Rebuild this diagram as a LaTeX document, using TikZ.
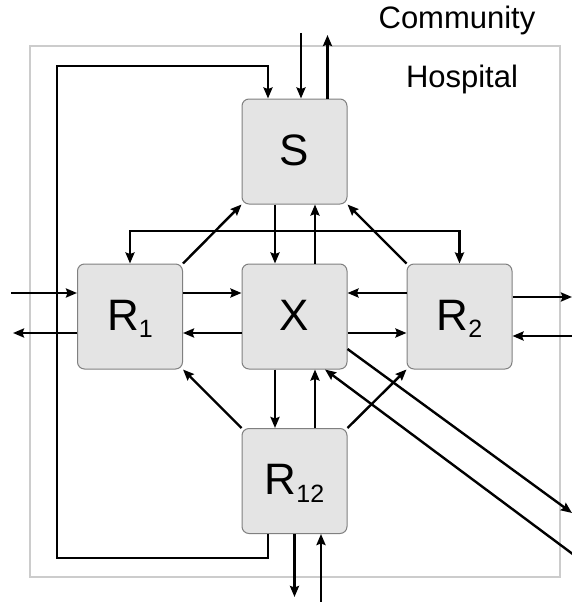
\documentclass[tikz,border=0pt]{standalone}
\usepackage{fontspec}
\setmainfont{Liberation Sans}
\usetikzlibrary{arrows.meta,calc}
\definecolor{boxfill}{RGB}{228,228,228}
\definecolor{boxline}{RGB}{128,128,128}
\definecolor{hosp}{RGB}{204,204,204}
\newcommand{\subsc}[1]{\raisebox{-7.5pt}{\fontsize{25}{25}\selectfont #1}}
\tikzset{
  compartment/.style={draw=boxline, line width=1pt, fill=boxfill, rounded corners=7pt,
    minimum width=105pt, minimum height=105pt, inner sep=0pt,
    font=\fontsize{44}{44}\selectfont, text height=32pt, text depth=5pt},
  flow/.style={line width=2.4pt, -{Stealth[length=11pt,width=9pt,inset=1.5pt]}},
  twoway/.style={line width=2.4pt, {Stealth[length=11pt,width=9pt,inset=1.5pt]}-{Stealth[length=11pt,width=9pt,inset=1.5pt]}},
  place/.style={font=\fontsize{31}{31}\selectfont, anchor=base, inner sep=0pt}
}
\begin{document}
\begin{tikzpicture}[x=1pt,y=-1pt]
\useasboundingbox (0,0) rectangle (572,602);
% hospital boundary
\draw[hosp, line width=1.2pt] (30,46) rectangle (560,577);
\node[place] (community) at (457,29) {Community};
\node[place] (hospital) at (462,87) {Hospital};
% compartments
\node[compartment] (S) at (294.5,151.5) {S};
\node[compartment] (R1) at (130,316.5) {R\subsc{1}};
\node[compartment] (X) at (294.5,316.5) {X};
\node[compartment] (R2) at (459.5,316.5) {R\subsc{2}};
\node[compartment] (R12) at (294.5,481) {R\subsc{12}};
% coordinates for free ends
\coordinate (ct1) at (301,33);
\coordinate (ct2) at (327.5,35);
\coordinate (cb1) at (294.5,597);
\coordinate (cb2) at (321,602);
\coordinate (li) at (11,293);
\coordinate (lo) at (13,333);
\coordinate (ro) at (572,297);
\coordinate (ri) at (572,336);
\coordinate (d1) at (572,513);
\coordinate (d2) at (574,555);
\coordinate (lb) at (57,558);
\coordinate (lt) at (57,66);
\coordinate (brk) at (294.5,231);
% community exchange at S
\draw[flow] (ct1) -- (ct1 |- S.north);
\draw[flow] (ct2 |- S.north) -- (ct2);
% community exchange at R12
\draw[flow] (R12.south) -- (cb1);
\draw[flow] (cb2) -- (cb2 |- R12.south);
% community exchange at R1
\draw[flow] (li) -- (li -| R1.west);
\draw[flow] (lo -| R1.west) -- (lo);
% community exchange at R2
\draw[flow] (ro -| R2.east) -- (ro);
\draw[flow] (ri) -- (ri -| R2.east);
% loop R12 -> S
\draw[flow] ([xshift=-26.5pt]R12.south) |- (lb) -- (lt) -| ([xshift=-26.5pt]S.north);
% S <-> X
\draw[flow] ([xshift=-19.5pt]S.south) -- ([xshift=-19.5pt]X.north);
\draw[flow] ([xshift=20.5pt]X.north) -- ([xshift=20.5pt]S.south);
% X <-> R12
\draw[flow] ([xshift=-19.5pt]X.south) -- ([xshift=-19.5pt]R12.north);
\draw[flow] ([xshift=20.5pt]R12.north) -- ([xshift=20.5pt]X.south);
% R1 <-> X
\draw[flow] ([yshift=23.5pt]R1.east) -- ([yshift=23.5pt]X.west);
\draw[flow] ([yshift=-16.5pt]X.west) -- ([yshift=-16.5pt]R1.east);
% X <-> R2
\draw[flow] ([yshift=23.5pt]R2.west) -- ([yshift=23.5pt]X.east);
\draw[flow] ([yshift=-16.5pt]X.east) -- ([yshift=-16.5pt]R2.west);
% diagonals
\draw[flow] (R1.north east) -- (S.south west);
\draw[flow] (R2.north west) -- (S.south east);
\draw[flow] (R12.north west) -- (R1.south east);
\draw[flow] (R12.north east) -- (R2.south west);
% R1 <-> R2 bracket
\draw[twoway] (R1.north) |- (brk) -| (R2.north);
% long diagonals
\draw[flow] ([yshift=-32.5pt]X.east) -- (d1);
\draw[flow] (d2) -- ([xshift=30.5pt]X.south);
\end{tikzpicture}
\end{document}
